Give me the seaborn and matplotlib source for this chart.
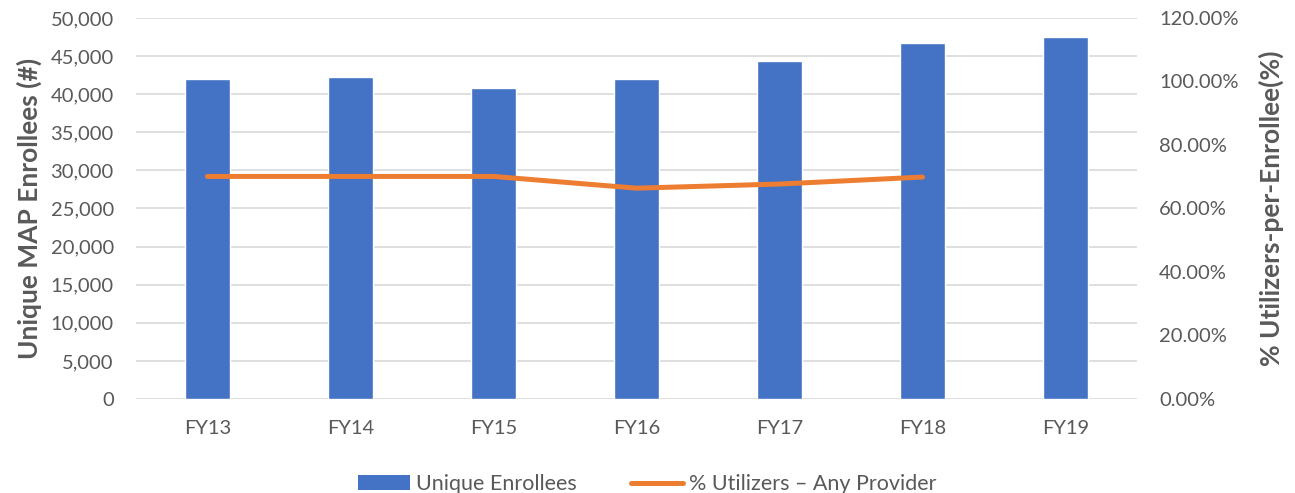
import numpy as np
import pandas as pd
import matplotlib
matplotlib.use("Agg")
import matplotlib.pyplot as plt
from matplotlib.patches import Patch
from matplotlib.lines import Line2D
from matplotlib.ticker import FuncFormatter, MultipleLocator
import seaborn as sns

years = ['FY13', 'FY14', 'FY15', 'FY16', 'FY17', 'FY18', 'FY19']
enrollees = [41950, 42200, 40800, 41950, 44400, 46700, 47500]
pct_years = ['FY13', 'FY14', 'FY15', 'FY16', 'FY17', 'FY18']
pct_utilizers = [70.1, 70.1, 70.1, 66.4, 67.7, 69.9]

blue = '#4472C4'
orange = '#ED7D31'
grey = '#595959'

sns.set_style('white')
plt.rcParams['font.family'] = ['Lato', 'DejaVu Sans']

bars = pd.DataFrame({'year': years, 'enrollees': enrollees})
line = pd.DataFrame({'pos': [years.index(y) for y in pct_years], 'pct': pct_utilizers})

fig, ax = plt.subplots(figsize=(12.95, 4.93), dpi=100)
fig.subplots_adjust(left=0.105, right=0.878, top=0.9635, bottom=0.1907)

sns.barplot(data=bars, x='year', y='enrollees', color=blue, width=0.315,
            saturation=1, ax=ax, zorder=2)
ax.set_ylim(0, 50000)
ax.set_xlim(-0.5, len(years) - 0.5)
ax.yaxis.set_major_locator(MultipleLocator(5000))
ax.yaxis.set_major_formatter(FuncFormatter(lambda v, p: f'{int(v):,}'))
ax.grid(axis='y', color='#D9D9D9', linewidth=1.2, zorder=0)
ax.set_axisbelow(True)
ax.set_xlabel('')
ax.set_ylabel('Unique MAP Enrollees (#)', fontsize=19, fontweight='bold', color=grey,
              labelpad=6)
ax.tick_params(axis='y', length=0, labelsize=14.5, labelcolor=grey, pad=16)
ax.tick_params(axis='x', length=0, labelsize=14.5, labelcolor=grey, pad=15)
for s in ax.spines.values():
    s.set_visible(False)

ax2 = ax.twinx()
sns.lineplot(data=line, x='pos', y='pct', color=orange, linewidth=3.6, ax=ax2,
             solid_capstyle='round')
ax2.set_ylim(0, 120)
ax2.set_xlim(-0.5, len(years) - 0.5)
ax2.yaxis.set_major_locator(MultipleLocator(20))
ax2.yaxis.set_major_formatter(FuncFormatter(lambda v, p: f'{v:.2f}%'))
ax2.set_ylabel('% Utilizers-per-Enrollee(%)', fontsize=19, fontweight='bold',
               color=grey, labelpad=14)
ax2.set_xlabel('')
ax2.tick_params(axis='both', length=0, labelsize=14.5, labelcolor=grey, pad=16)
for s in ax2.spines.values():
    s.set_visible(False)

handles = [Patch(facecolor=blue, edgecolor='none'),
           Line2D([0], [0], color=orange, linewidth=3.6, solid_capstyle='round')]
leg = fig.legend(handles, ['Unique Enrollees', '% Utilizers \u2013 Any Provider'],
                 loc='lower center', bbox_to_anchor=(0.5, -0.042), ncol=2,
                 frameon=False, fontsize=15.5, handlelength=2.4, handletextpad=0.3,
                 columnspacing=2.5)
for t in leg.get_texts():
    t.set_color(grey)

fig.savefig('out.png', dpi=100)
